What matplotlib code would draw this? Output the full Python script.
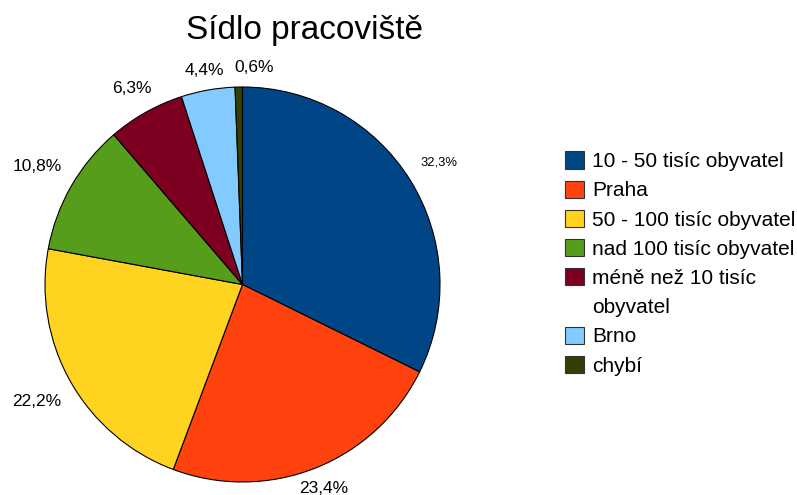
import numpy as np
import matplotlib
matplotlib.use("Agg")
import matplotlib.pyplot as plt
from matplotlib.patches import Patch

plt.rcParams['font.family'] = ['Liberation Sans', 'DejaVu Sans']

title = 'Sídlo pracoviště'
categories = ['10 - 50 tisíc obyvatel', 'Praha', '50 - 100 tisíc obyvatel',
              'nad 100 tisíc obyvatel', 'méně než 10 tisíc\nobyvatel', 'Brno', 'chybí']
values = [32.3, 23.4, 22.2, 10.8, 6.3, 4.4, 0.6]
pct_labels = ['32,3%', '23,4%', '22,2%', '10,8%', '6,3%', '4,4%', '0,6%']
colors = ['#004586', '#ff420e', '#ffd320', '#579d1c', '#7e0021', '#83caff', '#314004']

# label placement (distance from centre in radii, font size, sideways nudge)
label_dist = [1.17, 1.11, 1.2, 1.2, 1.14, 1.1, 1.1]
label_size = [9.4, 12.5, 12.5, 12.5, 12.5, 12.5, 12.5]
label_nudge = [0, 0, 0, 0, 0, 0, 0.08]

W, H = 797, 495
fig = plt.figure(figsize=(W / 100, H / 100), dpi=100)

cx, cy, r = 242.5, 284.5, 197.5
ax = fig.add_axes([(cx - r) / W, (H - cy - r) / H, 2 * r / W, 2 * r / H])
wedges, _ = ax.pie(values, colors=colors, startangle=90, counterclock=False,
                   radius=1, wedgeprops=dict(edgecolor='black', linewidth=0.8))
ax.set_xlim(-1, 1)
ax.set_ylim(-1, 1)
ax.set_aspect('equal')
ax.axis('off')

for w, lab, d, fs, nx in zip(wedges, pct_labels, label_dist, label_size, label_nudge):
    ang = np.deg2rad((w.theta1 + w.theta2) / 2)
    ax.text(d * np.cos(ang) + nx, d * np.sin(ang), lab, fontsize=fs,
            ha='center', va='center', clip_on=False)

fig.text(304 / W, 1 - 30 / H, title, fontsize=24, ha='center', va='center')

# wrapped legend labels: the box sits on the first line only
handles, texts = [], []
for c, name in zip(colors, categories):
    for i, line in enumerate(name.split('\n')):
        if i == 0:
            handles.append(Patch(facecolor=c, edgecolor='#333333', linewidth=0.8))
        else:
            handles.append(Patch(facecolor='none', edgecolor='none'))
        texts.append(line)

fig.legend(handles, texts, loc='center left', bbox_to_anchor=(565 / W, 1 - 263.5 / H),
           frameon=False, fontsize=15, borderaxespad=0, borderpad=0,
           handlelength=0.9, handleheight=0.9, handletextpad=0.4, labelspacing=0.45)

fig.savefig('out.png', dpi=100)
